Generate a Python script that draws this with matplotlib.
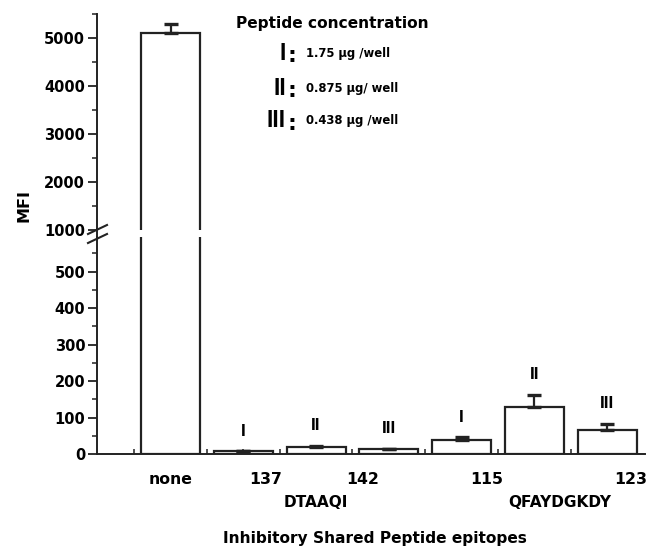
import numpy as np
import matplotlib
matplotlib.use('Agg')
import matplotlib.pyplot as plt
from matplotlib.lines import Line2D

plt.rcParams['font.family'] = ['DejaVu Sans']
plt.rcParams['font.weight'] = 'bold'

# MFI per condition (none, then I/II/III for each peptide epitope)
mfi = [5110, 8, 18, 13, 39, 129, 67]
err = [180, 0, 5, 2, 7, 33, 16]
conc_tags = ['', 'I', 'II', 'III', 'I', 'II', 'III']

# x labels under the axis
xtick_text = ['none', '137', '142', '115', '123']
xtick_pos = [0, 1.31, 2.64, 4.34, 6.33]
group_text = ['DTAAQI', 'QFAYDGKDY']
group_pos = [2.0, 5.35]

legend_title = 'Peptide concentration'
legend_roman = ['I', 'II', 'III']
legend_dose = ['1.75 \u03bcg /well', '0.875 \u03bcg/ well', '0.438 \u03bcg /well']

NARROW = ['Liberation Sans', 'DejaVu Sans']
INK = '#222222'

x = np.arange(len(mfi))

fig = plt.figure(figsize=(6.51, 5.47), dpi=100)
W, H = 651, 547
def box(l, t, r, b):
    return [l / W, 1 - b / H, (r - l) / W, (b - t) / H]

ax_top = fig.add_axes(box(97, 14, 645, 230))
ax_bot = fig.add_axes(box(97, 237, 645, 454))

for ax in (ax_top, ax_bot):
    ax.bar(x, mfi, width=0.81, color='white', edgecolor=INK, linewidth=1.6, zorder=2)
    ax.errorbar(x, mfi, yerr=[np.zeros(len(err)), err], fmt='none', ecolor=INK,
                elinewidth=1.6, capsize=5, capthick=2.4, zorder=3)
    ax.set_xlim(-1.01, 6.52)
    ax.spines['top'].set_visible(False)
    ax.spines['right'].set_visible(False)
    ax.spines['left'].set_linewidth(1.4)
    ax.spines['left'].set_color(INK)
    ax.tick_params(axis='y', which='major', length=6.5, width=1.3, labelsize=10.5, pad=2, color=INK)
    ax.tick_params(axis='y', which='minor', length=3.5, width=1.1, color=INK)

ax_top.set_ylim(1000, 5500)
ax_top.set_yticks([1000, 2000, 3000, 4000, 5000])
ax_top.set_yticks(np.arange(1500, 5501, 1000), minor=True)
ax_top.spines['bottom'].set_visible(False)
ax_top.set_xticks([])

ax_bot.set_ylim(0, 595)
ax_bot.set_yticks(np.arange(0, 501, 100))
ax_bot.set_yticks(np.arange(50, 560, 100), minor=True)
ax_bot.spines['bottom'].set_linewidth(1.4)
ax_bot.spines['bottom'].set_color(INK)
ax_bot.set_xticks(x - 0.5)
ax_bot.set_xticks(x, minor=True)
ax_bot.tick_params(axis='x', which='both', direction='in', length=3.5, width=1.1,
                   labelbottom=False, color=INK)

for ax in (ax_top, ax_bot):
    for lab in ax.get_yticklabels():
        lab.set_fontweight('bold')

# roman labels above bars
for xi, v, e, t in zip(x, mfi, err, conc_tags):
    if t:
        ax_bot.annotate(t, (xi, v + e), xytext=(0, 9), textcoords='offset points',
                        ha='center', va='bottom', fontsize=12.5, fontweight='bold', family=NARROW)

# x tick labels and peptide names
tr = ax_bot.get_xaxis_transform()
for p, s in zip(xtick_pos, xtick_text):
    ax_bot.text(p, -0.117, s, transform=tr, ha='center', va='center', fontsize=11.3, fontweight='bold')
for p, s in zip(group_pos, group_text):
    ax_bot.text(p, -0.222, s, transform=tr, ha='center', va='center', fontsize=11.1, fontweight='bold')
fig.text(375 / W, 1 - 538 / H, 'Inhibitory Shared Peptide epitopes',
         ha='center', va='center', fontsize=11.1, fontweight='bold')
fig.text(24 / W, 1 - 206 / H, 'MFI', rotation=90, ha='center', va='center', fontsize=11.5, fontweight='bold')

# spine continues through the gap, with break marks
fig.add_artist(Line2D([97 / W, 97 / W], [1 - 229 / H, 1 - 238 / H], color=INK, linewidth=1.4))
for dy in (0, 9):
    fig.add_artist(Line2D([88 / W, 107 / W], [1 - (234 + dy) / H, 1 - (225 + dy) / H],
                          color=INK, linewidth=1.5))

# concentration key
ax_top.text(0.254, 0.958, legend_title, transform=ax_top.transAxes, ha='left', va='center',
            fontsize=11.1, fontweight='bold')
for i, (r, d) in enumerate(zip(legend_roman, legend_dose)):
    yy = [0.819, 0.657, 0.505][i]
    ax_top.text(0.345, yy, r, transform=ax_top.transAxes, ha='right', va='center',
                fontsize=16.5, fontweight='bold', family=NARROW)
    ax_top.text(0.356, yy - 0.012, ':', transform=ax_top.transAxes, ha='center', va='center',
                fontsize=16, fontweight='bold')
    ax_top.text(0.381, yy, d, transform=ax_top.transAxes, ha='left', va='center',
                fontsize=8.4, fontweight='bold')

fig.savefig('out.png', dpi=100)
